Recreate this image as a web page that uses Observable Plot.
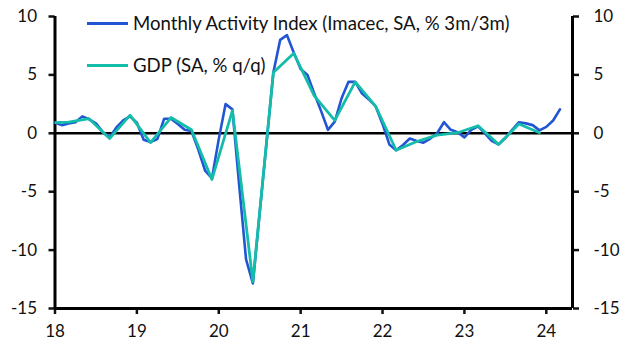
<!DOCTYPE html>
<html>
<head>
<meta charset="utf-8">
<script src="https://cdn.jsdelivr.net/npm/d3@7"></script>
<script src="https://cdn.jsdelivr.net/npm/@observablehq/plot@0.6"></script>
<style>
  html, body { margin: 0; padding: 0; background: #fff; }
  #wrap { position: relative; width: 630px; height: 355px; font-family: Lato, "Liberation Sans", sans-serif; }
  .legend { position: absolute; left: 87px; top: 0; }
  .row { position: absolute; display: flex; align-items: center; white-space: nowrap; font-size: 18.6px; line-height: 22px; height: 22px; color: #111; }
  .swatch { display: inline-block; width: 41px; height: 3px; margin-right: 5px; }
</style>
</head>
<body>
<div id="wrap"></div>
<script>
// Monthly Activity Index (Imacec, SA, % 3m/3m), monthly from Jan 2018 to Mar 2024
const imacecStart = 2018; // Jan 2018
const imacec = [
  0.9, 0.7, 0.85, 0.95, 1.45, 1.2, 0.85, 0.1, -0.35, 0.5, 1.1, 1.45,      // 2018
  0.9, -0.55, -0.75, -0.5, 1.25, 1.25, 0.8, 0.3, 0.2, -1.4, -3.2, -3.85,  // 2019
  -0.5, 2.5, 2.05, -4.5, -10.8, -12.85, -6.8, -0.8, 5.2, 8.0, 8.4, 6.9,   // 2020
  5.5, 5.0, 3.4, 1.9, 0.3, 1.0, 3.0, 4.4, 4.4, 3.4, 2.9, 2.3,             // 2021
  0.8, -0.95, -1.45, -1.0, -0.45, -0.65, -0.8, -0.45, 0.0, 0.95, 0.3, 0.1, // 2022
  -0.35, 0.3, 0.6, 0.0, -0.65, -0.95, -0.4, 0.3, 0.95, 0.85, 0.7, 0.25,   // 2023
  0.55, 1.1, 2.05                                                         // 2024
];
// GDP (SA, % q/q), quarterly from Q4 2017 to Q4 2023, plotted at quarter's last month
const gdpStart = 2017 + 11 / 12; // Dec 2017
const gdp = [
  0.9,
  0.95, 1.25, -0.45, 1.55,   // 2018
  -0.8, 1.35, 0.3, -3.95,    // 2019
  1.95, -12.7, 5.2, 6.85,    // 2020
  3.2, 1.1, 4.4, 2.3,        // 2021
  -1.45, -0.7, -0.15, 0.05,  // 2022
  0.65, -0.95, 0.8, 0.05     // 2023
];
const seriesNames = ["Monthly Activity Index (Imacec, SA, % 3m/3m)", "GDP (SA, % q/q)"];
const seriesColors = ["#2155d3", "#14bcaa"];
const xTicks = [2018, 2019, 2020, 2021, 2022, 2023, 2024];
const xTickLabels = ["18", "19", "20", "21", "22", "23", "24"];
const yTicks = [-15, -10, -5, 0, 5, 10];
const xDomain = [2018, 2024.32];
const yDomain = [-15, 10];

const imacecData = imacec.map((v, i) => ({x: imacecStart + i / 12, y: v}));
const gdpData = gdp.map((v, i) => ({x: gdpStart + i * 0.25, y: v}));

const axisCommon = {tickSize: 6, strokeWidth: 2.5, label: null, fill: "#111"};

const chart = Plot.plot({
  width: 630,
  height: 355,
  marginLeft: 54.5,
  marginRight: 58,
  marginTop: 16,
  marginBottom: 47,
  style: {fontFamily: "Lato, 'Liberation Sans', sans-serif", fontSize: "17px", background: "white", color: "#111"},
  x: {domain: xDomain},
  y: {domain: yDomain},
  marks: [
    Plot.axisY({...axisCommon, anchor: "left", ticks: yTicks, tickFormat: d => String(d), tickPadding: 12}),
    Plot.axisY({...axisCommon, anchor: "right", ticks: yTicks, tickFormat: d => String(d), tickPadding: 15, textAnchor: "start"}),
    Plot.axisX({...axisCommon, anchor: "bottom", ticks: xTicks, tickFormat: d => xTickLabels[xTicks.indexOf(d)], tickPadding: 10}),
    Plot.ruleY([0], {stroke: "#000", strokeWidth: 2.5}),
    Plot.ruleY([yDomain[0]], {stroke: "#000", strokeWidth: 3}),
    Plot.ruleX(xDomain, {stroke: "#000", strokeWidth: 3}),
    Plot.lineY(imacecData, {x: "x", y: "y", stroke: seriesColors[0], strokeWidth: 2.6, clip: true}),
    Plot.lineY(gdpData, {x: "x", y: "y", stroke: seriesColors[1], strokeWidth: 2.8, clip: true})
  ]
});

const wrap = document.getElementById("wrap");
wrap.appendChild(chart);
const legend = document.createElement("div");
legend.className = "legend";
seriesNames.forEach((name, i) => {
  const row = document.createElement("div");
  row.className = "row";
  row.style.top = (12 + i * 42) + "px";
  const sw = document.createElement("span");
  sw.className = "swatch";
  sw.style.background = seriesColors[i];
  const tx = document.createElement("span");
  tx.textContent = name;
  row.appendChild(sw);
  row.appendChild(tx);
  legend.appendChild(row);
});
wrap.appendChild(legend);
</script>
</body>
</html>
